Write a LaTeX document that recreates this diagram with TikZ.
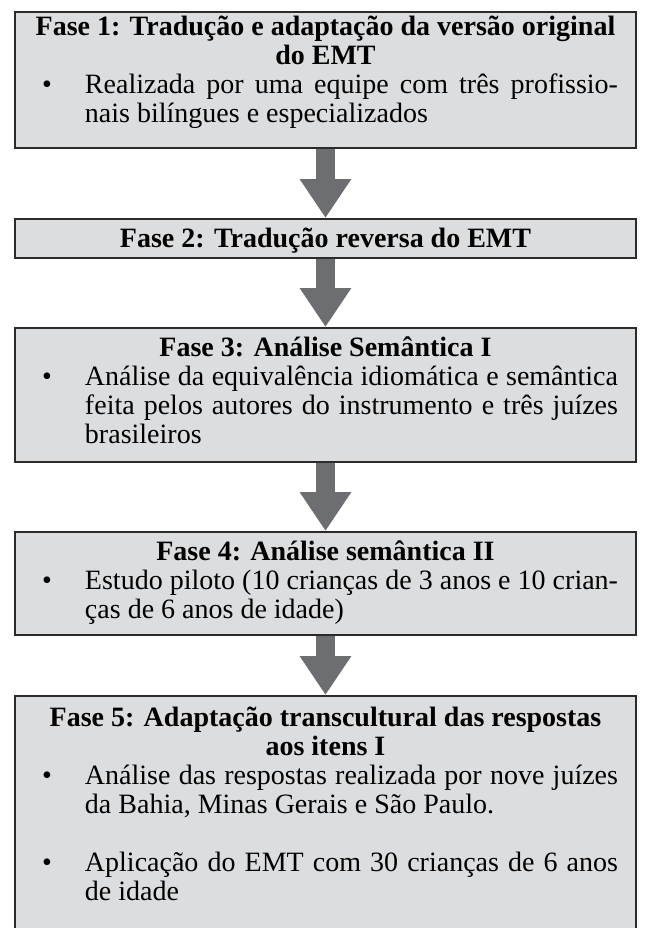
\documentclass[tikz,border=0pt]{standalone}
\usepackage{fontspec}
\setmainfont{Liberation Serif}
\usetikzlibrary{arrows.meta}
\definecolor{cinzacaixa}{HTML}{DCDDDF}
\definecolor{cinzaseta}{HTML}{6D6E71}
\definecolor{bordacaixa}{HTML}{2B2B2B}
\newcommand{\titulo}[2][14pt]{{\centering\bfseries\rule{0pt}{#1}#2\par}}
\newcommand{\topico}[1]{\par\leftskip=35pt\rightskip=9pt\parfillskip=0pt plus 1fil\noindent\llap{\makebox[21.5pt][l]{\textbullet}}#1\par}
\newcommand{\caixa}[2]{\parbox[t][#1][t]{310.5pt}{\fontsize{14}{14.5}\selectfont #2}}

\begin{document}
\begin{tikzpicture}[x=0.5pt,y=-0.5pt,
	fase/.style={draw=bordacaixa, line width=1pt, fill=cinzacaixa, anchor=north, inner sep=0pt},
	seta/.style={draw=cinzaseta, line width=9.75pt, -{Triangle[width=24.5pt,length=19.5pt]}}]
			%%%%% START %%%%%
			\useasboundingbox (0,0) rectangle (644,928);
			\clip (0,0) rectangle (644,928);
			
			\node[fase] (f1) at (325.5,11) {\caixa{68pt}{\titulo[11.5pt]{Fase 1: Tradução e adaptação da versão original\\ do EMT}
				\topico{Realizada por uma equipe com três profissio-\linebreak nais bilíngues e especializados}}};
			
			\node[fase] (f2) at (325.5,218) {\caixa{19.5pt}{\titulo{Fase 2: Tradução reversa do EMT}}};
			
			\node[fase] (f3) at (325.5,327) {\caixa{67pt}{\titulo{Fase 3: Análise Semântica I}
				\topico{Análise da equivalência idiomática e semântica\linebreak feita pelos autores do instrumento e três juízes\linebreak brasileiros}}};
			
			\node[fase] (f4) at (325.5,531) {\caixa{51.5pt}{\titulo{Fase 4: Análise semântica II}
				\topico{Estudo piloto (10 crianças de 3 anos e 10 crian-\linebreak ças de 6 anos de idade)}}};
			
			\node[fase] (f5) at (325.5,695) {\caixa{130pt}{\titulo[15pt]{Fase 5: Adaptação transcultural das respostas\\ aos itens I}
				\topico{Análise das respostas realizada por nove juízes\linebreak da Bahia, Minas Gerais e São Paulo.}
				\vspace{14.5pt}
				\topico{Aplicação do EMT com 30 crianças de 6 anos\linebreak de idade}}};
			
			\draw[seta] (f1.south) -- (f2.north);
			\draw[seta] (f2.south) -- (f3.north);
			\draw[seta] (f3.south) -- (f4.north);
			\draw[seta] (f4.south) -- (f5.north);
			
			%%%%% END %%%%%
\end{tikzpicture}
\end{document}
